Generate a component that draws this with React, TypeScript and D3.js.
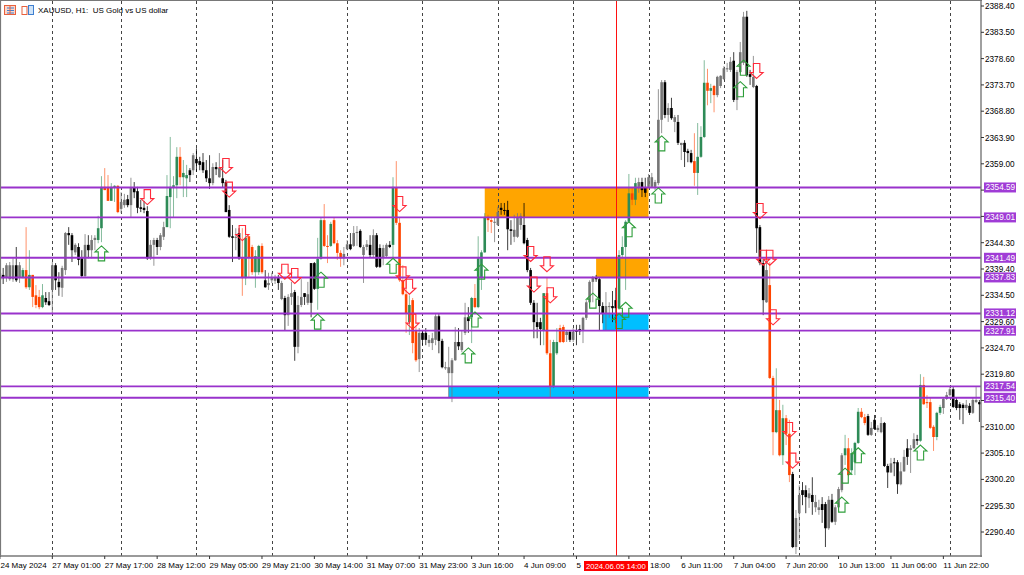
import React from "react";
import * as d3 from "d3";

const opens = [
2337.4,2338.3,2337.7,2337.5,2337.5,2340.1,2337.9,2337.7,2339.2,2336.0,
2338.3,2334.5,2334.2,2332.3,2334.0,2333.4,2335.5,2340.1,2337.0,2335.9,
2339.2,2346.1,2345.7,2342.5,2343.5,2341.4,2338.1,2343.9,2342.9,2344.8,
2344.8,2347.0,2354.7,2354.7,2352.1,2354.7,2354.9,2350.6,2351.3,2352.4,
2351.3,2354.5,2353.9,2350.9,2350.8,2350.2,2341.4,2343.9,2344.8,2343.5,
2345.4,2347.2,2352.8,2354.7,2355.0,2360.3,2356.5,2356.3,2357.8,2357.8,
2359.9,2359.5,2359.3,2357.8,2356.3,2355.4,2358.4,2356.5,2356.3,2355.6,
2350.4,2345.5,2345.2,2346.1,2341.4,2337.7,2345.5,2343.5,2338.8,2338.8,
2343.7,2337.3,2336.4,2337.3,2337.2,2337.7,2333.8,2334.0,2330.8,2334.2,
2335.1,2324.9,2332.7,2334.9,2333.1,2340.5,2340.5,2335.7,2341.3,2348.5,
2343.7,2343.7,2348.5,2344.2,2342.4,2341.4,2343.1,2344.0,2343.7,2346.1,
2346.5,2342.0,2343.5,2343.9,2342.0,2345.7,2343.3,2341.6,2341.8,2343.9,
2343.9,2354.5,2348.0,2337.3,2334.7,2329.5,2333.6,2328.0,2322.6,2327.5,
2327.5,2325.6,2325.6,2326.2,2330.6,2326.0,2320.9,2320.0,2320.0,2322.4,
2325.8,2324.3,2327.5,2330.4,2330.4,2334.0,2332.3,2337.7,2342.5,2348.9,
2348.5,2348.0,2347.6,2350.8,2350.4,2350.4,2346.8,2345.4,2345.4,2347.6,
2347.6,2344.8,2339.2,2333.1,2329.5,2329.5,2328.0,2334.9,2323.7,2317.4,
2323.7,2328.4,2328.6,2327.1,2327.7,2326.2,2328.0,2328.2,2328.0,2330.3,
2333.2,2337.0,2337.9,2337.5,2332.5,2331.2,2332.3,2332.5,2333.6,2332.1,
2342.0,2343.5,2348.2,2353.5,2352.3,2354.7,2355.6,2354.5,2354.7,2354.7,
2354.7,2355.4,2367.2,2374.2,2368.1,2369.4,2366.8,2366.8,2362.5,2362.9,
2361.4,2361.0,2359.5,2357.3,2360.3,2364.0,2374.1,2372.6,2373.5,2371.8,
2373.5,2374.8,2376.6,2376.5,2378.2,2370.9,2376.1,2377.8,2386.4,2375.7,
2373.3,2373.5,2347.2,2340.5,2333.2,2336.4,2319.1,2309.0,2313.1,2304.7,
2311.6,2308.7,2301.2,2287.6,2293.9,2298.2,2298.2,2296.7,2297.3,2295.0,
2294.5,2295.6,2295.6,2291.1,2296.4,2292.3,2295.0,2298.2,2304.7,2306.0,
2301.9,2303.4,2307.0,2312.8,2311.8,2312.0,2308.5,2311.3,2309.4,2309.0,
2310.7,2302.7,2301.5,2303.4,2303.4,2299.3,2301.7,2306.0,2305.7,2306.0,
2307.7,2307.4,2317.8,2314.6,2314.6,2310.0,2308.1,2312.6,2313.5,2315.2,
2315.9,2317.0,2315.0,2314.2,2314.1,2313.5,2313.9,2312.6,2314.6,2314.6];

const closes = [
2338.6,2337.7,2340.1,2340.1,2340.1,2337.3,2340.1,2339.2,2336.0,2338.3,
2334.2,2332.7,2332.3,2334.5,2333.2,2332.7,2340.1,2337.3,2336.0,2339.6,
2346.1,2345.7,2342.9,2343.9,2341.1,2338.1,2343.9,2342.9,2344.8,2345.2,
2347.0,2354.7,2354.1,2352.1,2354.7,2354.9,2350.0,2351.9,2352.3,2351.3,
2354.5,2353.7,2350.8,2350.6,2350.4,2341.4,2343.9,2344.8,2343.5,2345.7,
2347.2,2353.0,2354.7,2355.0,2360.3,2356.5,2357.3,2356.9,2356.9,2360.6,
2359.1,2358.8,2357.8,2356.3,2355.4,2358.4,2358.0,2358.2,2355.4,2350.0,
2345.4,2345.2,2345.4,2341.4,2337.7,2345.2,2341.6,2338.8,2341.8,2343.7,
2338.8,2336.0,2336.8,2337.7,2337.9,2336.8,2336.8,2330.8,2334.2,2334.9,
2324.9,2332.7,2334.2,2334.2,2334.7,2333.1,2335.7,2341.3,2348.5,2343.7,
2343.5,2347.8,2344.2,2342.4,2341.4,2342.2,2344.0,2343.1,2346.1,2346.3,
2343.5,2343.5,2344.0,2342.0,2345.7,2339.8,2339.8,2343.3,2343.9,2343.5,
2354.7,2348.0,2337.3,2334.7,2331.2,2332.7,2325.6,2322.4,2327.5,2326.2,
2326.2,2326.2,2326.5,2330.6,2326.0,2321.1,2321.1,2321.1,2322.4,2325.8,
2325.0,2325.8,2330.4,2329.7,2334.0,2332.3,2341.4,2342.5,2349.1,2348.5,
2348.2,2348.2,2350.0,2350.4,2350.2,2346.8,2346.5,2346.7,2349.1,2349.3,
2344.2,2339.2,2333.1,2329.5,2328.6,2328.2,2334.9,2323.7,2317.4,2325.8,
2325.8,2325.8,2325.8,2327.7,2326.2,2327.7,2327.7,2327.8,2330.3,2333.2,
2337.0,2337.9,2337.5,2332.5,2331.2,2332.5,2332.5,2332.1,2332.1,2342.0,
2343.5,2348.2,2353.5,2352.3,2355.4,2355.6,2354.1,2353.6,2356.5,2356.5,
2355.6,2367.2,2374.2,2368.1,2369.4,2367.5,2367.7,2362.9,2362.9,2361.2,
2361.0,2359.3,2357.3,2360.3,2364.0,2374.1,2372.6,2373.1,2371.8,2375.2,
2375.4,2376.8,2376.8,2378.0,2370.9,2376.1,2379.8,2386.4,2375.5,2375.2,
2375.2,2347.0,2340.5,2333.6,2339.2,2319.1,2309.0,2313.1,2304.7,2311.6,
2308.7,2301.0,2287.6,2293.0,2297.3,2297.3,2296.9,2297.6,2296.0,2296.0,
2295.0,2294.5,2291.1,2296.4,2292.3,2295.0,2298.4,2304.7,2306.0,2301.0,
2305.1,2307.0,2312.8,2311.8,2310.7,2308.5,2309.8,2309.6,2309.8,2310.7,
2302.7,2301.5,2303.2,2303.2,2299.3,2301.7,2304.4,2304.4,2306.0,2307.7,
2307.4,2317.8,2314.2,2314.4,2309.8,2308.1,2312.6,2313.7,2315.2,2315.9,
2317.0,2313.7,2313.5,2313.5,2313.5,2314.1,2312.6,2315.0,2315.0,2314.2];

const highs = [
2340.1,2339.6,2340.5,2340.7,2341.4,2343.5,2340.7,2339.6,2347.2,2342.9,
2338.3,2336.4,2335.5,2336.6,2335.1,2335.1,2340.7,2340.5,2338.8,2340.0,
2346.3,2347.2,2346.1,2344.2,2344.2,2342.9,2345.9,2345.7,2345.7,2345.7,
2349.3,2356.7,2358.2,2356.9,2355.4,2355.0,2355.0,2353.7,2353.4,2353.2,
2356.4,2355.6,2354.7,2352.3,2352.1,2351.1,2344.8,2345.2,2345.2,2346.1,
2348.2,2356.9,2364.0,2356.7,2362.1,2362.1,2359.7,2358.8,2358.2,2361.0,
2361.9,2360.3,2361.0,2359.7,2360.6,2359.1,2359.3,2361.0,2359.7,2356.0,
2351.3,2347.6,2347.0,2347.0,2347.0,2347.0,2345.5,2343.9,2342.9,2343.9,
2344.2,2339.2,2338.7,2338.7,2338.3,2338.3,2337.2,2334.4,2334.7,2337.0,
2335.5,2334.4,2337.5,2334.9,2337.0,2340.5,2340.7,2345.2,2348.9,2351.5,
2345.7,2348.2,2348.9,2344.8,2342.9,2343.5,2344.8,2346.1,2347.4,2347.4,
2346.8,2343.9,2344.8,2345.7,2346.8,2346.1,2344.0,2343.9,2344.2,2344.6,
2356.5,2359.5,2348.9,2340.1,2337.3,2334.5,2334.0,2328.8,2328.4,2328.0,
2328.4,2327.1,2327.5,2331.0,2331.0,2326.4,2322.1,2324.9,2322.8,2328.6,
2328.4,2328.0,2333.1,2332.3,2334.2,2336.6,2345.5,2342.9,2349.8,2349.5,
2349.1,2348.9,2351.0,2351.7,2351.7,2352.1,2348.5,2349.5,2349.8,2349.8,
2351.7,2345.2,2339.6,2333.6,2333.1,2330.3,2334.9,2337.9,2326.2,2326.2,
2328.4,2329.0,2329.0,2328.0,2328.0,2328.4,2329.0,2329.0,2330.5,2333.6,
2337.3,2338.1,2338.3,2337.9,2333.2,2335.1,2333.2,2335.3,2335.9,2342.9,
2345.5,2348.5,2357.1,2354.5,2356.4,2356.4,2356.4,2356.4,2357.1,2357.3,
2356.0,2372.9,2374.6,2374.6,2370.3,2371.3,2368.1,2368.1,2362.9,2363.4,
2361.8,2361.6,2364.7,2366.6,2366.0,2378.3,2376.7,2373.9,2373.7,2375.4,
2375.5,2377.2,2377.8,2378.9,2379.8,2376.5,2381.7,2387.3,2387.5,2376.5,
2379.1,2373.7,2347.6,2341.1,2341.1,2340.7,2319.5,2320.9,2315.0,2314.1,
2312.2,2311.3,2301.6,2294.5,2299.1,2299.7,2299.1,2298.6,2300.6,2297.3,
2296.4,2296.9,2296.0,2297.1,2297.5,2295.4,2298.8,2305.1,2308.5,2307.9,
2306.0,2307.2,2313.5,2313.5,2312.4,2312.4,2310.9,2312.2,2310.3,2311.8,
2310.9,2303.1,2304.2,2304.2,2303.8,2303.4,2305.7,2307.7,2306.6,2308.8,
2308.5,2319.8,2319.3,2315.9,2315.5,2310.3,2312.8,2314.1,2315.5,2316.5,
2317.6,2317.4,2315.4,2314.6,2314.4,2315.0,2314.4,2315.4,2317.4,2315.0];

const lows = [
2334.9,2336.6,2337.0,2337.2,2337.0,2337.0,2336.8,2337.7,2335.7,2335.5,
2332.3,2332.1,2331.9,2332.1,2332.7,2332.5,2331.2,2335.5,2334.4,2334.2,
2338.3,2343.9,2340.7,2342.0,2340.1,2337.9,2337.9,2341.4,2341.4,2342.9,
2344.2,2344.4,2354.1,2352.1,2352.1,2351.9,2349.8,2349.8,2350.8,2350.9,
2349.1,2352.6,2349.8,2350.0,2349.8,2341.1,2341.1,2340.0,2342.0,2342.9,
2344.8,2347.2,2347.0,2349.1,2352.6,2355.0,2352.8,2352.8,2355.6,2356.9,
2357.5,2357.8,2357.3,2355.6,2354.3,2355.0,2356.9,2356.4,2354.5,2350.0,
2345.2,2340.7,2342.9,2341.1,2334.4,2336.4,2337.9,2338.3,2335.9,2338.3,
2338.5,2335.9,2335.5,2336.8,2336.6,2335.5,2333.6,2328.0,2328.8,2332.7,
2322.3,2323.7,2332.3,2332.7,2332.7,2330.4,2335.5,2331.8,2341.1,2343.5,
2340.5,2343.5,2344.0,2341.1,2339.8,2340.1,2342.9,2342.9,2343.5,2343.7,
2343.3,2336.8,2342.9,2341.6,2341.6,2339.6,2339.6,2340.1,2341.6,2343.3,
2341.4,2347.6,2337.0,2334.5,2327.5,2327.1,2323.7,2322.1,2320.2,2325.2,
2325.2,2324.9,2324.3,2325.2,2323.7,2320.9,2320.6,2315.4,2314.6,2322.3,
2324.3,2323.9,2327.1,2327.5,2325.6,2332.1,2332.1,2335.5,2342.4,2346.3,
2346.1,2344.4,2347.4,2349.5,2349.5,2342.9,2343.9,2344.4,2345.2,2346.7,
2344.0,2338.8,2332.7,2326.5,2326.5,2325.2,2325.2,2323.4,2315.5,2317.2,
2323.4,2325.6,2325.6,2325.8,2325.8,2325.8,2325.2,2327.1,2325.6,2329.9,
2332.3,2333.2,2337.0,2328.0,2329.3,2328.0,2330.3,2329.5,2329.3,2331.8,
2341.4,2335.5,2348.0,2351.3,2351.3,2353.6,2352.8,2352.8,2354.5,2354.5,
2354.1,2355.0,2364.7,2367.5,2366.8,2367.2,2364.9,2362.5,2359.7,2358.4,
2359.3,2359.1,2354.9,2353.2,2360.1,2363.8,2369.9,2370.3,2368.6,2371.4,
2373.1,2374.6,2376.1,2376.1,2370.5,2369.0,2375.9,2377.4,2375.2,2373.7,
2373.1,2342.4,2340.1,2330.8,2333.1,2318.9,2304.7,2308.8,2304.5,2302.9,
2306.6,2299.7,2287.4,2286.3,2288.9,2295.4,2293.9,2294.9,2293.6,2294.1,
2293.6,2292.1,2287.6,2290.8,2292.1,2291.7,2294.9,2297.8,2302.9,2300.8,
2301.0,2301.0,2306.8,2311.6,2310.3,2308.3,2308.3,2309.4,2309.0,2308.8,
2302.5,2298.6,2301.4,2300.8,2297.5,2299.1,2301.6,2302.9,2301.4,2305.9,
2306.6,2307.2,2314.1,2313.5,2309.6,2305.5,2307.5,2312.2,2312.4,2315.0,
2315.7,2313.5,2313.1,2311.3,2310.5,2313.1,2312.2,2312.4,2314.4,2310.9];

// highlighted runs of bars, first and last index
const accentRuns = [[7,13],[30,36],[51,57],[74,80],[97,104],[120,127],[144,150],[166,172],[189,194],[212,218],[235,241],[258,264],[281,287]];

const levels = [2354.59, 2349.01, 2341.49, 2337.83, 2331.12, 2327.91, 2317.54, 2315.40];
const levelLabels = ["2354.59", "2349.01", "2341.49", "2337.83", "2331.12", "2327.91", "2317.54", "2315.40"];

// every tick gets a mark; the prices hidden behind a level flag carry no text
const priceTicks = ["2388.40","2383.50","2378.60","2373.70","2368.80","2363.90","2359.00","2354.10","2349.20","2344.30","2339.40","2334.50","2329.60","2324.70","2319.80","2314.90","2310.00","2305.10","2300.20","2295.30","2290.40"];
const hiddenPriceTexts = ["2354.10", "2349.20", "2314.90"];

const timeTickBars = [0,16,32,48,64,80,96,112,128,144,160,176,208,224,240,256,272,288];
const timeTickTexts = ["24 May 2024","27 May 01:00","27 May 17:00","28 May 12:00","29 May 05:00","29 May 21:00","30 May 14:00","31 May 07:00","31 May 23:00","3 Jun 16:00","4 Jun 09:00","5","6 Jun 11:00","7 Jun 04:00","7 Jun 20:00","10 Jun 13:00","11 Jun 06:00","11 Jun 22:00"];

const daySeparatorBars = [16,37,60,83,106,129,152,175,198,221,244,267,290];

const upArrowBars = [31,97,98,120,147,145,143,191,189,181,192,201,202,226,227,258,257,262,281];
const upArrowPrices = [2343.7,2331.0,2338.8,2341.4,2340.3,2331.4,2324.7,2333.2,2331.1,2334.9,2348.2,2354.5,2364.2,2374.3,2378.3,2302.3,2296.9,2306.1,2306.6];
const downArrowBars = [45,69,70,74,87,90,122,123,125,126,162,167,163,168,231,232,233,235,236,241,242];
const downArrowPrices = [2351.4,2357.2,2352.8,2344.7,2337.5,2336.7,2350.1,2337.0,2334.7,2328.2,2340.8,2338.9,2335.1,2333.1,2374.9,2348.8,2340.1,2340.1,2329.0,2308.0,2302.3];

const zoneStartBars = [148, 182, 184, 137];
const zoneEndBar = 198;
const zoneTops = [2354.59, 2341.49, 2331.12, 2317.54];
const zoneBottoms = [2349.01, 2337.83, 2327.91, 2315.40];
const zoneColors = ["#FFA500", "#FFA500", "#00BFFF", "#00BFFF"];

const crosshairBar = 188;
const crosshairText = "2024.06.05 14:00";
const title = "XAUUSD, H1:  US Gold vs US dollar";

const W = 1024, H = 575, RIGHT = 981, BOTTOM = 556;
const x = d3.scaleLinear().domain([0, 299]).range([-0.1, 979.4]);
const y = d3.scaleLinear().domain([2388.4, 2290.4]).range([6, 532]);
const FONT = "'Liberation Sans', Arial, sans-serif";
const AXIS = "#787878";

const accentSet = new Set<number>();
accentRuns.forEach(([a, b]) => d3.range(a, b + 1).forEach((i) => accentSet.add(i)));

function candleColor(i: number) {
  const up = closes[i] >= opens[i];
  if (accentSet.has(i)) return up ? "#2E8B57" : "#FF4500";
  return up ? "#757575" : "#000000";
}

const arrowLine = d3.line<[number, number]>();
function arrowPath(cx: number, tip: number, dir: 1 | -1) {
  const h = 15, headH = 6, headW = 6.5, shaft = 3.2;
  const pts: [number, number][] = [
    [cx, tip],
    [cx + headW, tip + dir * headH],
    [cx + shaft, tip + dir * headH],
    [cx + shaft, tip + dir * h],
    [cx - shaft, tip + dir * h],
    [cx - shaft, tip + dir * headH],
    [cx - headW, tip + dir * headH],
  ];
  return arrowLine(pts) + "Z";
}

export default function App() {
  const cx = Math.round(x(crosshairBar)) + 0.5;
  return (
    <svg width={W} height={H} viewBox={`0 0 ${W} ${H}`} style={{ position: "absolute", left: 0, top: 0, display: "block", background: "#fff" }} fontFamily={FONT} fontSize={8.2}>
      <defs>
        <clipPath id="plot"><rect x={0} y={1} width={RIGHT} height={BOTTOM - 1} /></clipPath>
      </defs>
      <g clipPath="url(#plot)">
        {zoneStartBars.map((b, i) => (
          <rect key={i} x={x(b)} y={y(zoneTops[i])} width={x(zoneEndBar) - x(b)} height={y(zoneBottoms[i]) - y(zoneTops[i])} fill={zoneColors[i]} />
        ))}
        {daySeparatorBars.map((b) => (
          <line key={b} x1={Math.round(x(b)) + 0.5} x2={Math.round(x(b)) + 0.5} y1={1} y2={BOTTOM} stroke="#444" strokeWidth={1} strokeDasharray="3 3" />
        ))}
        {opens.map((o, i) => {
          const c = closes[i];
          const col = candleColor(i);
          const top = y(Math.max(o, c));
          const bot = y(Math.min(o, c));
          const accent = accentSet.has(i);
          return (
            <g key={i}>
              <line x1={x(i)} x2={x(i)} y1={y(highs[i])} y2={y(lows[i])} stroke={col} strokeWidth={0.9} strokeOpacity={accent ? 0.65 : 0.85} />
              <rect x={x(i) - 1.3} y={top} width={2.6} height={Math.max(bot - top, 0.9)} fill={col} />
            </g>
          );
        })}
        {levels.map((l) => (
          <line key={l} x1={0} x2={RIGHT} y1={y(l)} y2={y(l)} stroke="#9932CC" strokeWidth={1.9} />
        ))}
        {upArrowBars.map((b, i) => (
          <path key={"u" + i} d={arrowPath(x(b), y(upArrowPrices[i]), 1)} fill="none" stroke="#2E9E3A" strokeWidth={1.1} />
        ))}
        {downArrowBars.map((b, i) => (
          <path key={"d" + i} d={arrowPath(x(b), y(downArrowPrices[i]), -1)} fill="none" stroke="#FF2A3A" strokeWidth={1.1} />
        ))}
        <line x1={cx} x2={cx} y1={1} y2={BOTTOM} stroke="#FF1010" strokeWidth={1} />
      </g>

      {/* frame */}
      <line x1={0} x2={RIGHT + 1} y1={0.5} y2={0.5} stroke={AXIS} strokeWidth={1.2} />
      <line x1={0.5} x2={0.5} y1={0} y2={BOTTOM} stroke={AXIS} strokeWidth={1.2} />
      <line x1={RIGHT} x2={RIGHT} y1={0} y2={BOTTOM + 1} stroke={AXIS} strokeWidth={1.4} />
      <line x1={0} x2={RIGHT + 1} y1={BOTTOM} y2={BOTTOM} stroke={AXIS} strokeWidth={1.4} />

      {/* price axis */}
      {priceTicks.map((t) => (
        <g key={t}>
          <line x1={RIGHT} x2={RIGHT + 3} y1={y(+t)} y2={y(+t)} stroke="#333" />
          {hiddenPriceTexts.includes(t) ? null : <text x={RIGHT + 4} y={y(+t) + 3} fill="#000">{t}</text>}
        </g>
      ))}
      {levels.map((l, i) => (
        <g key={l}>
          <rect x={RIGHT + 3} y={y(l) - 5} width={32} height={10} fill="#A03CD6" />
          <text x={RIGHT + 4.5} y={y(l) + 3} fill="#fff">{levelLabels[i]}</text>
        </g>
      ))}

      {/* time axis */}
      {timeTickBars.concat([192]).map((b) => (
        <line key={b} x1={x(b)} x2={x(b)} y1={BOTTOM} y2={BOTTOM + 3} stroke="#333" />
      ))}
      {timeTickBars.map((b, i) => (
        <text key={b} x={Math.max(x(b), 0.5)} y={568} fill="#000" fontSize={8}>{timeTickTexts[i]}</text>
      ))}
      <text x={650} y={568} fill="#000" fontSize={8}>18:00</text>
      <rect x={584} y={561} width={64} height={10} fill="#FF0000" />
      <text x={586} y={568.5} fill="#fff" fontSize={7.7}>{crosshairText}</text>

      {/* header */}
      <g>
        <rect x={4.5} y={5.5} width={11} height={9} fill="#FBD5C8" stroke="#E8603C" />
        <line x1={7} x2={14} y1={8} y2={8} stroke="#3F7FD0" />
        <line x1={7} x2={14} y1={10.5} y2={10.5} stroke="#3F7FD0" />
        <line x1={7} x2={14} y1={13} y2={13} stroke="#3F7FD0" />
        <line x1={10} x2={10} y1={6} y2={14} stroke="#E8603C" />
        <rect x={22} y={6.5} width={5} height={8} fill="#fff" stroke="#E8603C" />
        <rect x={28.5} y={5.5} width={5} height={9} fill="#CFE3F7" stroke="#3F7FD0" />
      </g>
      <text x={38} y={13} fill="#000" fontSize={8} style={{ whiteSpace: "pre" }}>{title}</text>
    </svg>
  );
}
